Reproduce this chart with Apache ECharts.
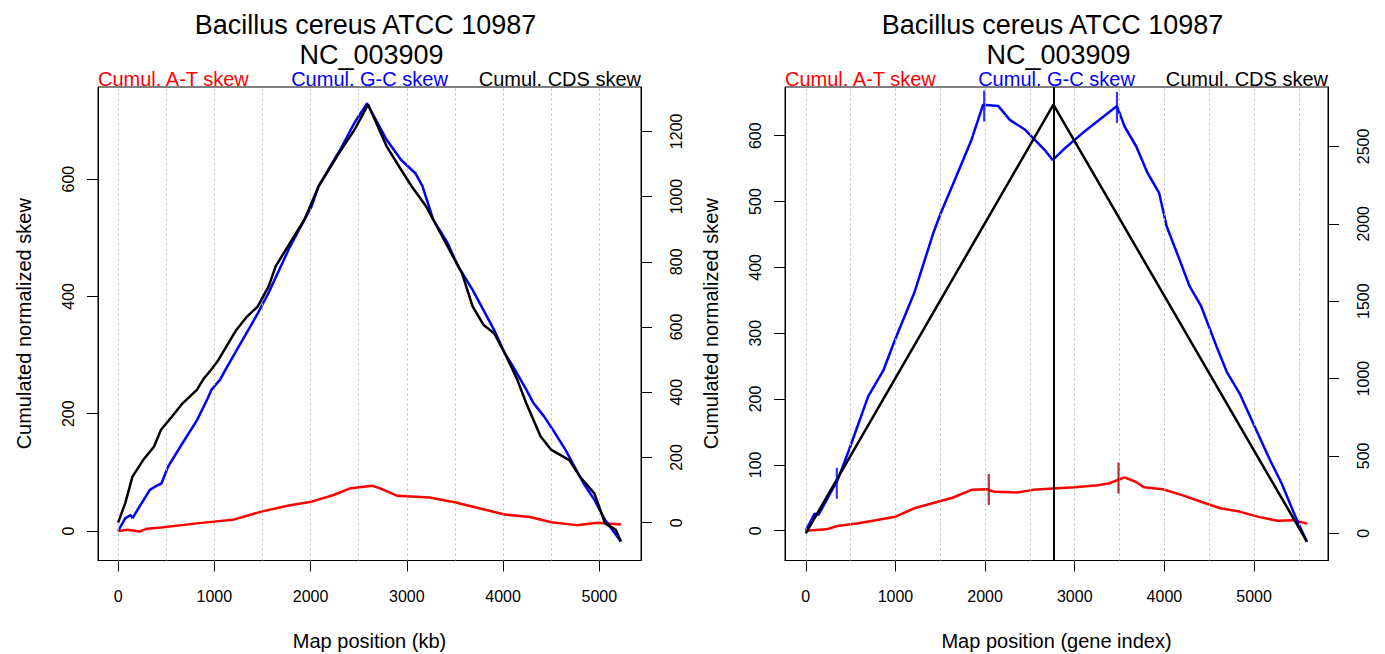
<!DOCTYPE html>
<html>
<head>
<meta charset="utf-8">
<title>Bacillus cereus ATCC 10987 – cumulated skews</title>
<script src="https://cdn.jsdelivr.net/npm/echarts@6/dist/echarts.min.js"></script>
<style>
  html, body { margin: 0; padding: 0; background: #ffffff; }
  #chart { width: 1385px; height: 654px; }
</style>
</head>
<body>
<div id="chart"></div>
<script>
// ---------------- data ----------------
const organism = 'Bacillus cereus ATCC 10987';
const accession = 'NC_003909';
const seriesNames = ['Cumul. A-T skew', 'Cumul. G-C skew', 'Cumul. CDS skew'];

// Panel 1: skews along the chromosome (position in kb)
const atKbPos = [0, 100, 223, 300, 446, 818, 1191, 1488, 1786, 2009, 2232, 2418, 2641, 2716, 2902, 3237, 3497, 3720, 4018, 4279, 4502, 4762, 4985, 5224];
const atKbVal = [0, 2, -1, 4, 6, 13, 19, 33, 44, 50, 61, 73, 77, 73, 60, 57, 49, 40, 28, 24, 15, 10, 14, 11];

const gcKbPos = [0, 75, 130, 150, 220, 330, 410, 450, 520, 670, 820, 930, 970, 1060, 1116, 1451, 1563, 1786, 2009, 2083, 2307, 2456, 2586, 2790, 2939, 3088, 3162, 3274, 3423, 3534, 3683, 3795, 3906, 4018, 4112, 4241, 4316, 4427, 4539, 4650, 4725, 4837, 4949, 5060, 5134, 5224];
const gcKbVal = [0, 22, 27, 22, 41, 70, 78, 81, 110, 150, 189, 226, 241, 258, 275, 371, 406, 485, 553, 588, 650, 696, 729, 667, 633, 610, 588, 531, 491, 451, 411, 377, 343, 303, 278, 241, 218, 195, 167, 138, 115, 81, 53, 19, 2, -18];

const cdsKbPos = [0, 74, 149, 260, 372, 446, 558, 670, 818, 893, 967, 1042, 1228, 1339, 1451, 1563, 1637, 1786, 1935, 2083, 2307, 2456, 2597, 2790, 2939, 3051, 3200, 3311, 3460, 3572, 3683, 3795, 3906, 4018, 4148, 4241, 4390, 4502, 4688, 4799, 4948, 5060, 5171, 5224];
const cdsKbVal = [0, 60, 141, 192, 233, 285, 325, 366, 407, 443, 469, 499, 591, 632, 663, 724, 786, 858, 929, 1031, 1139, 1205, 1282, 1154, 1083, 1031, 970, 909, 827, 766, 663, 607, 581, 520, 438, 366, 264, 223, 192, 141, 90, -2, -22, -58];

// Panel 2: skews along the gene order (gene index)
const atGenePos = [0, 227, 355, 568, 782, 995, 1209, 1422, 1636, 1849, 2020, 2105, 2361, 2532, 2762, 3002, 3258, 3386, 3556, 3685, 3770, 3983, 4197, 4410, 4624, 4837, 5051, 5264, 5435, 5590];
const atGeneVal = [0, 2, 7, 11, 16, 21, 34, 42, 50, 62, 63, 59, 58, 62, 64, 66, 69, 72, 81, 74, 66, 63, 54, 44, 34, 29, 21, 15, 16, 11];

const gcGenePos = [0, 99, 141, 355, 483, 696, 803, 867, 995, 1209, 1422, 1507, 1678, 1849, 1977, 2148, 2276, 2447, 2660, 2754, 2874, 3087, 3300, 3471, 3556, 3685, 3813, 3941, 4026, 4154, 4282, 4410, 4581, 4700, 4837, 5008, 5179, 5307, 5478, 5590];
const gcGeneVal = [0, 26, 24, 77, 123, 204, 229, 244, 290, 361, 452, 483, 538, 594, 647, 645, 624, 609, 579, 563, 579, 604, 627, 645, 614, 584, 543, 513, 462, 417, 371, 341, 280, 240, 209, 158, 107, 72, 16, -17];

const cdsGenePos = [0, 2762, 5590];
const cdsGeneVal = [0, 2770, -54];

// Marked positions on the gene-index panel
const gcMarkPos = [346, 1990, 3471];
const gcMarkVal = [72, 645, 643];
const atMarkPos = [2041, 3488];
const atMarkVal = [62.6, 80];
const cdsMaxGene = 2762;

// Tick labels and grid positions
const kbTicks = [0, 1000, 2000, 3000, 4000, 5000];
const geneTicks = [0, 1000, 2000, 3000, 4000, 5000];
const kbGrid = [0, 500, 1000, 1500, 2000, 2500, 3000, 3500, 4000, 4500, 5000];
const geneGrid = [0, 500, 1000, 1500, 2000, 2500, 3000, 3500, 4000, 4500, 5000, 5500];
const skewTicksKb = [0, 200, 400, 600];
const cdsTicksKb = [0, 200, 400, 600, 800, 1000, 1200];
const skewTicksGene = [0, 100, 200, 300, 400, 500, 600];
const cdsTicksGene = [0, 500, 1000, 1500, 2000, 2500];

// ---------------- chart ----------------
const FONT = "'Liberation Sans', Arial, Helvetica, sans-serif";
const RED = '#ff0000', BLUE = '#0000ff', BLACK = '#000000', DARKRED = '#a00000';
const pairs = (xs, ys) => xs.map((x, i) => [x, ys[i]]);
const plain = v => String(v);

// plot boxes
const box1 = { left: 98, top: 87, width: 543, height: 473.5 };
const box2 = { left: 785, top: 87, width: 543, height: 473.5 };
const cx1 = box1.left + box1.width / 2;
const cx2 = box2.left + box2.width / 2;
const cy = box1.top + box1.height / 2;

function gridDef(b) {
  return {
    left: b.left, top: b.top, width: b.width, height: b.height,
    show: true, borderColor: '#000', borderWidth: 1, backgroundColor: 'transparent',
    containLabel: false, outerBoundsMode: 'none'
  };
}

function xAxisDef(gridIndex, min, max, ticks, name) {
  return {
    type: 'value', gridIndex, min, max,
    name, nameLocation: 'middle', nameGap: 70,
    nameTextStyle: { fontSize: 20, color: '#000', fontFamily: FONT },
    axisLine: { show: true, onZero: false, lineStyle: { color: '#000', width: 1 } },
    axisTick: { show: true, length: 11, customValues: ticks, lineStyle: { color: '#000', width: 1 } },
    axisLabel: { customValues: ticks, formatter: plain, margin: 28, fontSize: 16, color: '#000', fontFamily: FONT },
    splitLine: { show: false }
  };
}

function yAxisDef(gridIndex, position, min, max, ticks) {
  return {
    type: 'value', gridIndex, position, min, max,
    axisLine: { show: true, onZero: false, lineStyle: { color: '#000', width: 1 } },
    axisTick: { show: true, length: 11, customValues: ticks, lineStyle: { color: '#000', width: 1 } },
    axisLabel: {
      customValues: ticks, formatter: plain, rotate: 90, margin: position === 'left' ? 22 : 27,
      fontSize: 16, color: '#000', fontFamily: FONT
    },
    splitLine: { show: false }
  };
}

function lineSeries(name, xs, ys, color, xi, yi, z) {
  return {
    type: 'line', name, xAxisIndex: xi, yAxisIndex: yi,
    data: pairs(xs, ys), showSymbol: false, symbol: 'none',
    lineStyle: { color, width: 2.5 }, itemStyle: { color },
    z, silent: true, animation: false
  };
}

function gridLines(xi, yi, positions) {
  return {
    type: 'line', xAxisIndex: xi, yAxisIndex: yi, data: [], z: 1, silent: true, animation: false,
    markLine: {
      silent: true, symbol: ['none', 'none'], animation: false,
      label: { show: false },
      lineStyle: { color: '#bdbdbd', width: 1, type: [2, 3] },
      data: positions.map(v => ({ xAxis: v }))
    }
  };
}

function markSeries(xs, ys, color, xi, yi) {
  return {
    type: 'scatter', xAxisIndex: xi, yAxisIndex: yi, data: pairs(xs, ys),
    symbol: 'rect', symbolSize: [2.2, 31], itemStyle: { color },
    z: 8, silent: true, animation: false
  };
}

function headerTexts(cx, b) {
  const t = (text, x, y, size, fill, align) => ({
    type: 'text', x, y, silent: true,
    style: { text, fill, font: `${size}px ${FONT}`, textAlign: align, textVerticalAlign: 'middle' }
  });
  return [
    t(organism, cx - 4, 24.5, 27, '#000', 'center'),
    t(accession, cx + 2, 54.5, 27, '#000', 'center'),
    t(seriesNames[0], b.left, 79, 20, RED, 'left'),
    t(seriesNames[1], cx, 79, 20, BLUE, 'center'),
    t(seriesNames[2], b.left + b.width, 79, 20, BLACK, 'right'),
    {
      type: 'text', x: b.left - 74, y: cy, rotation: Math.PI / 2, silent: true,
      style: { text: 'Cumulated normalized skew', fill: '#000', font: `20px ${FONT}`, textAlign: 'center', textVerticalAlign: 'middle' }
    }
  ];
}

const chart = echarts.init(document.getElementById('chart'), null, { renderer: 'svg' });

chart.setOption({
  backgroundColor: '#ffffff',
  animation: false,
  grid: [gridDef(box1), gridDef(box2)],
  xAxis: [
    xAxisDef(0, -209, 5433, kbTicks, 'Map position (kb)'),
    xAxisDef(1, -232, 5825, geneTicks, 'Map position (gene index)')
  ],
  yAxis: [
    yAxisDef(0, 'left', -50.3, 757, skewTicksKb),
    yAxisDef(0, 'right', -116, 1336, cdsTicksKb),
    yAxisDef(1, 'left', -45.3, 674, skewTicksGene),
    yAxisDef(1, 'right', -176, 2884, cdsTicksGene)
  ],
  graphic: { elements: [...headerTexts(cx1, box1), ...headerTexts(cx2, box2)] },
  series: [
    // chromosome position panel
    gridLines(0, 0, kbGrid),
    lineSeries(seriesNames[0], atKbPos, atKbVal, RED, 0, 0, 3),
    lineSeries(seriesNames[1], gcKbPos, gcKbVal, BLUE, 0, 0, 4),
    lineSeries(seriesNames[2], cdsKbPos, cdsKbVal, BLACK, 0, 1, 5),
    // gene index panel
    gridLines(1, 2, geneGrid),
    lineSeries(seriesNames[0], atGenePos, atGeneVal, RED, 1, 2, 3),
    lineSeries(seriesNames[1], gcGenePos, gcGeneVal, BLUE, 1, 2, 4),
    Object.assign(lineSeries(seriesNames[2], cdsGenePos, cdsGeneVal, BLACK, 1, 3, 5), {
      markLine: {
        silent: true, symbol: ['none', 'none'], animation: false,
        label: { show: false },
        lineStyle: { color: '#000', width: 2, type: 'solid' },
        data: [{ xAxis: cdsMaxGene }]
      }
    }),
    markSeries(gcMarkPos, gcMarkVal, BLUE, 1, 2),
    markSeries(atMarkPos, atMarkVal, DARKRED, 1, 2)
  ]
});
</script>
</body>
</html>
